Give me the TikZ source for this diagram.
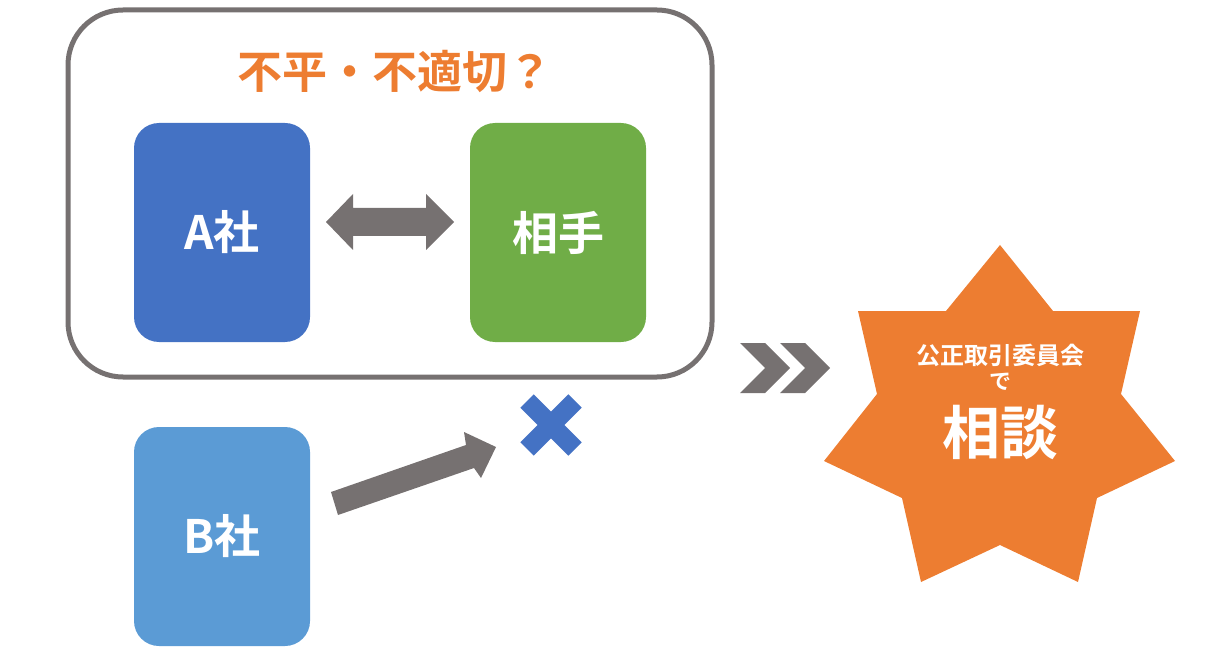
\documentclass[tikz,border=0pt]{standalone}
\usepackage{fontspec}
\setmainfont{Noto Sans CJK JP}[BoldFont={Noto Sans CJK JP Bold}]
\definecolor{cA}{HTML}{4472C4}
\definecolor{cG}{HTML}{70AD47}
\definecolor{cB}{HTML}{5B9BD5}
\definecolor{cO}{HTML}{ED7D31}
\definecolor{cg}{HTML}{767171}
\begin{document}
\begin{tikzpicture}[x=1pt,y=-1pt,
 box/.style={rounded corners=25pt,minimum width=176pt,minimum height=219pt,text=white,font=\bfseries\fontsize{46}{46}\selectfont,inner sep=0},
 shp/.style={fill=cg,draw=none}]
\useasboundingbox (0,0) rectangle (1225,652);
\draw[cg,line width=5pt,rounded corners=55pt] (68,10) rectangle (712,377);
\node[text=cO,font=\bfseries\fontsize{45}{45}\selectfont] (title) at (395,72) {不平・不適切？};
\node[box,fill=cA] (a) at (222,232.5) {A社};
\node[box,fill=cG] (p) at (558,232.5) {相手};
\node[box,fill=cB] (b) at (222,536.5) {B社};
\fill[cg] (326,222)--(353,194)--(353,208)--(426,208)--(426,194)--(454,222)--(426,250)--(426,236)--(353,236)--(353,250)--cycle;
\fill[cg] (331,492)--(466,445)--(464,432)--(496,447)--(481,478)--(474,468)--(338,515)--cycle;
\draw[cA,line width=19pt] (527,401)--(575,449) (575,401)--(527,449);
\fill[cg] (740,343)--(765,343)--(790,368)--(765,393)--(740,393)--(765,368)--cycle;
\fill[cg] (780,343)--(805,343)--(830,368)--(805,393)--(780,393)--(805,368)--cycle;
\fill[cO] (1000,245)--(1053,311)--(1140,311)--(1121,394)--(1175,461)--(1097,498)--(1078,582)--(1000,545)--(921,582)--(902,498)--(824,461)--(877,394)--(858,311)--(946,311)--cycle;
\node[text=white,font=\bfseries\fontsize{24}{24}\selectfont] (s1) at (1000,355) {公正取引委員会};
\node[text=white,font=\bfseries\fontsize{22}{22}\selectfont] (s2) at (1000,382) {で};
\node[text=white,font=\bfseries\fontsize{58}{58}\selectfont] (s3) at (1000,432) {相談};
\end{tikzpicture}
\end{document}
